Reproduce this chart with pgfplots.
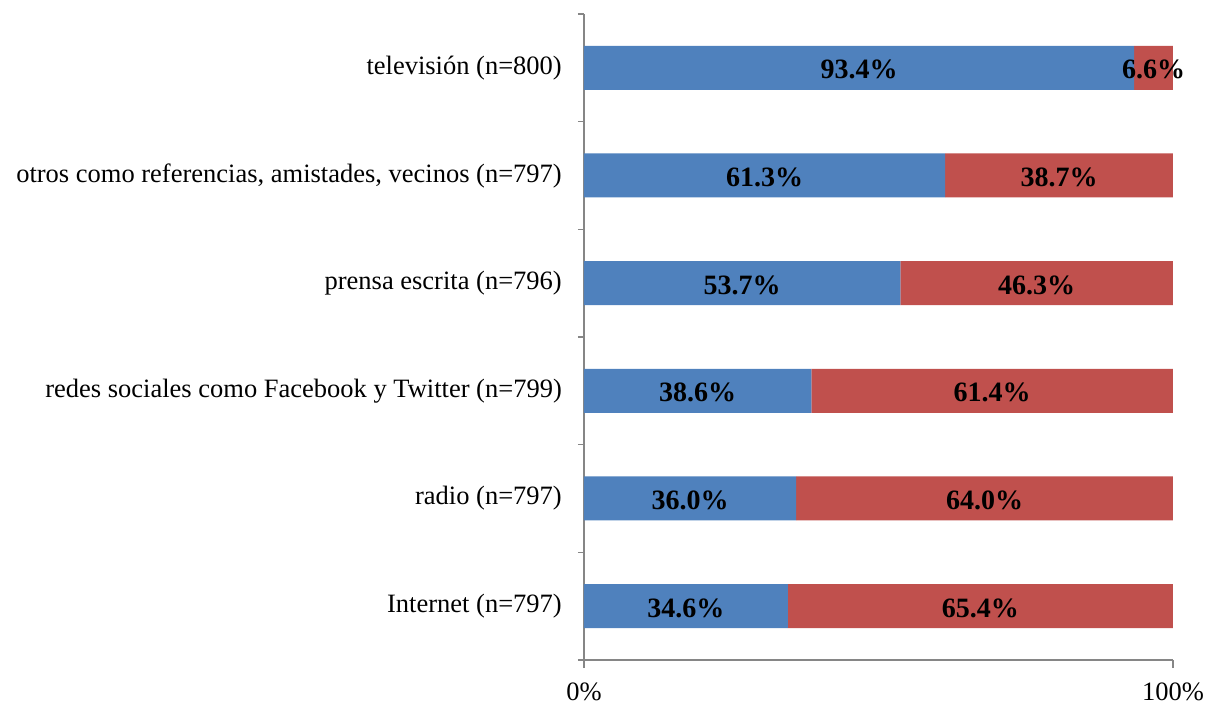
\documentclass[border=0pt]{standalone}
\usepackage{pgfplots}
\usepackage{pgfplotstable}
\pgfplotsset{compat=1.18}
\usepackage{fontspec}
\setmainfont{Liberation Serif}
\definecolor{barblue}{HTML}{4F81BD}
\definecolor{barred}{HTML}{C0504D}
\definecolor{axgray}{HTML}{868686}

%% share of each medium, blue / red part (percent)
\pgfplotstableread{
pos blue red
0 34.6 65.4
1 36.0 64.0
2 38.6 61.4
3 53.7 46.3
4 61.3 38.7
5 93.4 6.6
}\mediadata

\begin{document}
\fontsize{26.5bp}{31bp}\selectfont
\begin{tikzpicture}
\begin{axis}[
    scale only axis,
    width=589bp, height=646bp,
    xbar stacked,
    bar width=44bp,
    xmin=0, xmax=100,
    ymin=-0.5, ymax=5.5,
    axis x line=bottom,
    axis y line=left,
    axis line style={draw=axgray, line width=1.3bp, -},
    tick align=outside,
    xtick={0,100},
    xticklabels={0\%,100\%},
    major tick length=8bp,
    minor tick length=6bp,
    tick style={draw=axgray, line width=1.3bp},
    xticklabel style={yshift=-6bp},
    ytick={0,...,5},
    minor ytick={-0.5,0.5,...,5.5},
    major y tick style={draw=none},
    yticklabels={Internet (n=797), radio (n=797),
        redes sociales como Facebook y Twitter (n=799),
        prensa escrita (n=796),
        {otros como referencias, amistades, vecinos (n=797)},
        televisión (n=800)},
    yticklabel style={inner sep=0pt, xshift=-14bp},
    /pgf/number format/assume math mode=true,
    every node near coord/.append style={font=\fontsize{28bp}{32bp}\selectfont\bfseries,
        anchor=center, inner sep=0pt, yshift=-2bp},
]
%% stacked bar labels already sit in the middle of each segment
\addplot[fill=barblue, draw=none,
    visualization depends on={\thisrow{blue} \as \bv},
    nodes near coords={\pgfmathprintnumber[fixed,fixed zerofill,precision=1]{\bv}\%}]
    table[x=blue, y=pos] {\mediadata};
\addplot[fill=barred, draw=none,
    visualization depends on={\thisrow{red} \as \rv},
    nodes near coords={\pgfmathprintnumber[fixed,fixed zerofill,precision=1]{\rv}\%}]
    table[x=red, y=pos] {\mediadata};
\coordinate (sw) at (rel axis cs:0,0);
\end{axis}
\pgfresetboundingbox
\path (sw) ++(-584bp,-45bp) rectangle ++(1207bp,705bp);
\end{tikzpicture}
\end{document}
